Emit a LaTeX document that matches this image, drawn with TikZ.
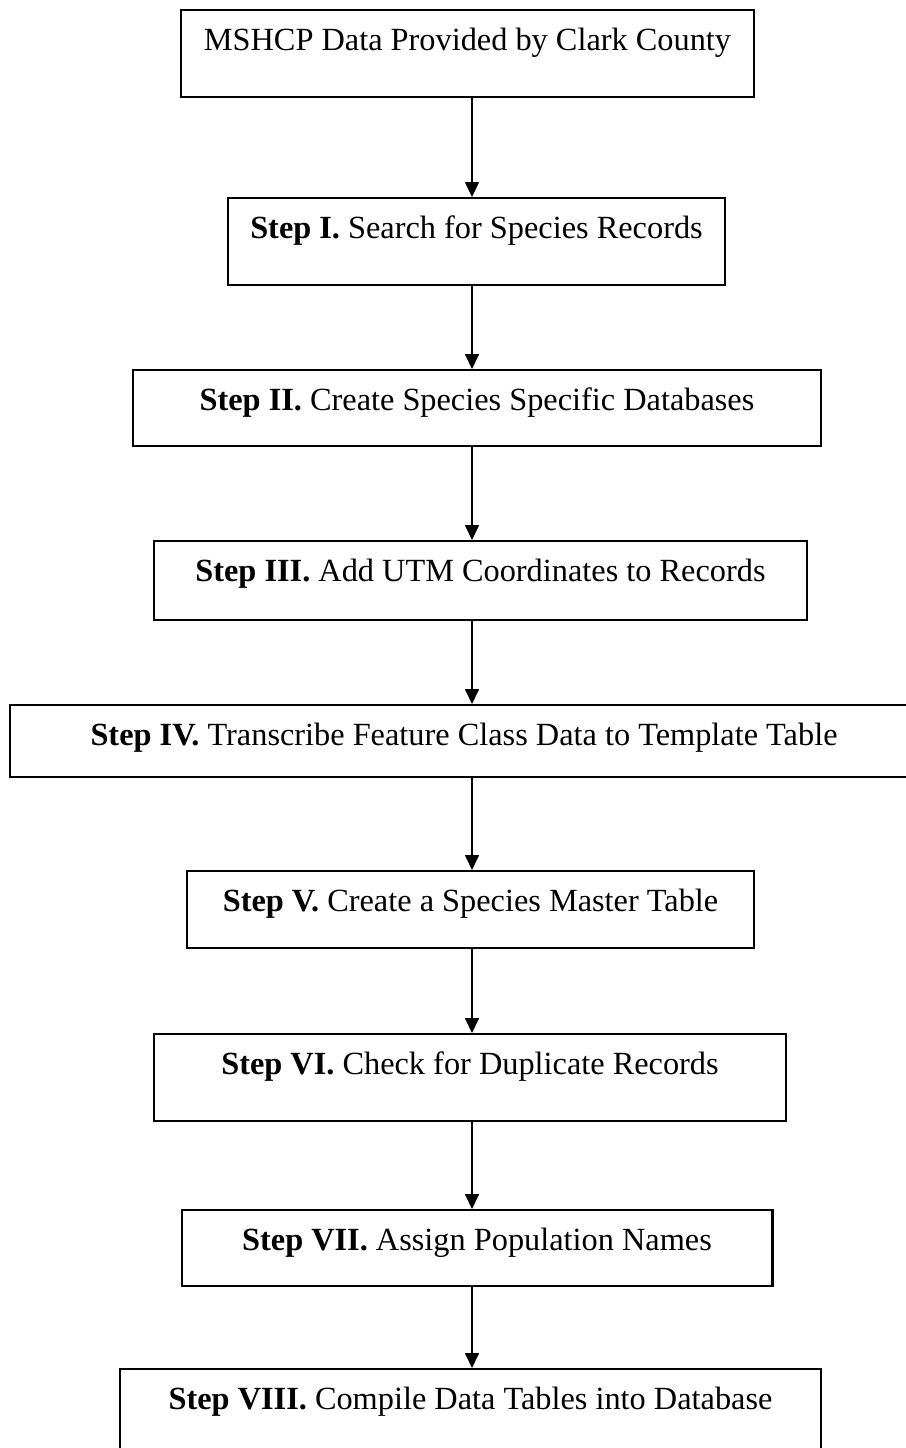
\documentclass[tikz,border=0pt]{standalone}
\usepackage{fontspec}
\setmainfont{Liberation Serif}
\usetikzlibrary{arrows.meta}

\begin{document}
\begin{tikzpicture}[
    x=0.02cm, y=-0.02cm,
    font=\fontsize{18.4pt}{22pt}\selectfont,
    stepbox/.style={
        draw=black,
        line width=1.2pt,
        anchor=north,
        inner xsep=0pt,
        inner ysep=0pt,
        text height=0.8cm,
        align=center
    },
    flowarrow/.style={
        -{Triangle[length=0.3cm,width=0.28cm]},
        draw=black,
        line width=0.95pt
    }
]

\useasboundingbox (0,0) rectangle (906,1448);

\coordinate (spine) at (472,0);

\node[stepbox, minimum width=11.46cm, text depth=0.94cm] (b1) at (467.5,9)
    {MSHCP Data Provided by Clark County};
\node[stepbox, minimum width=9.94cm, text depth=0.94cm] (b2) at (476.5,197)
    {\textbf{Step I.} Search for Species Records};
\node[stepbox, minimum width=13.76cm, text depth=0.72cm] (b3) at (477,369)
    {\textbf{Step II.} Create Species Specific Databases};
\node[stepbox, minimum width=13.06cm, text depth=0.78cm] (b4) at (480.5,540)
    {\textbf{Step III.} Add UTM Coordinates to Records};
\node[stepbox, minimum width=18.16cm, text depth=0.64cm] (b5) at (464,704)
    {\textbf{Step IV.} Transcribe Feature Class Data to Template Table};
\node[stepbox, minimum width=11.34cm, text depth=0.74cm] (b6) at (470.5,870)
    {\textbf{Step V.} Create a Species Master Table};
\node[stepbox, minimum width=12.64cm, text depth=0.94cm] (b7) at (470,1033)
    {\textbf{Step VI.} Check for Duplicate Records};
\node[stepbox, minimum width=11.82cm, text depth=0.72cm] (b8) at (477,1209)
    {\textbf{Step VII.} Assign Population Names};
\node[stepbox, minimum width=14.02cm, text depth=1.4cm] (b9) at (470.5,1368)
    {\textbf{Step VIII.} Compile Data Tables into Database};

\foreach \a/\b in {b1/b2,b2/b3,b3/b4,b4/b5,b5/b6,b6/b7,b7/b8,b8/b9}
    \draw[flowarrow] (\a.south -| spine) -- (\b.north -| spine);

\end{tikzpicture}
\end{document}
